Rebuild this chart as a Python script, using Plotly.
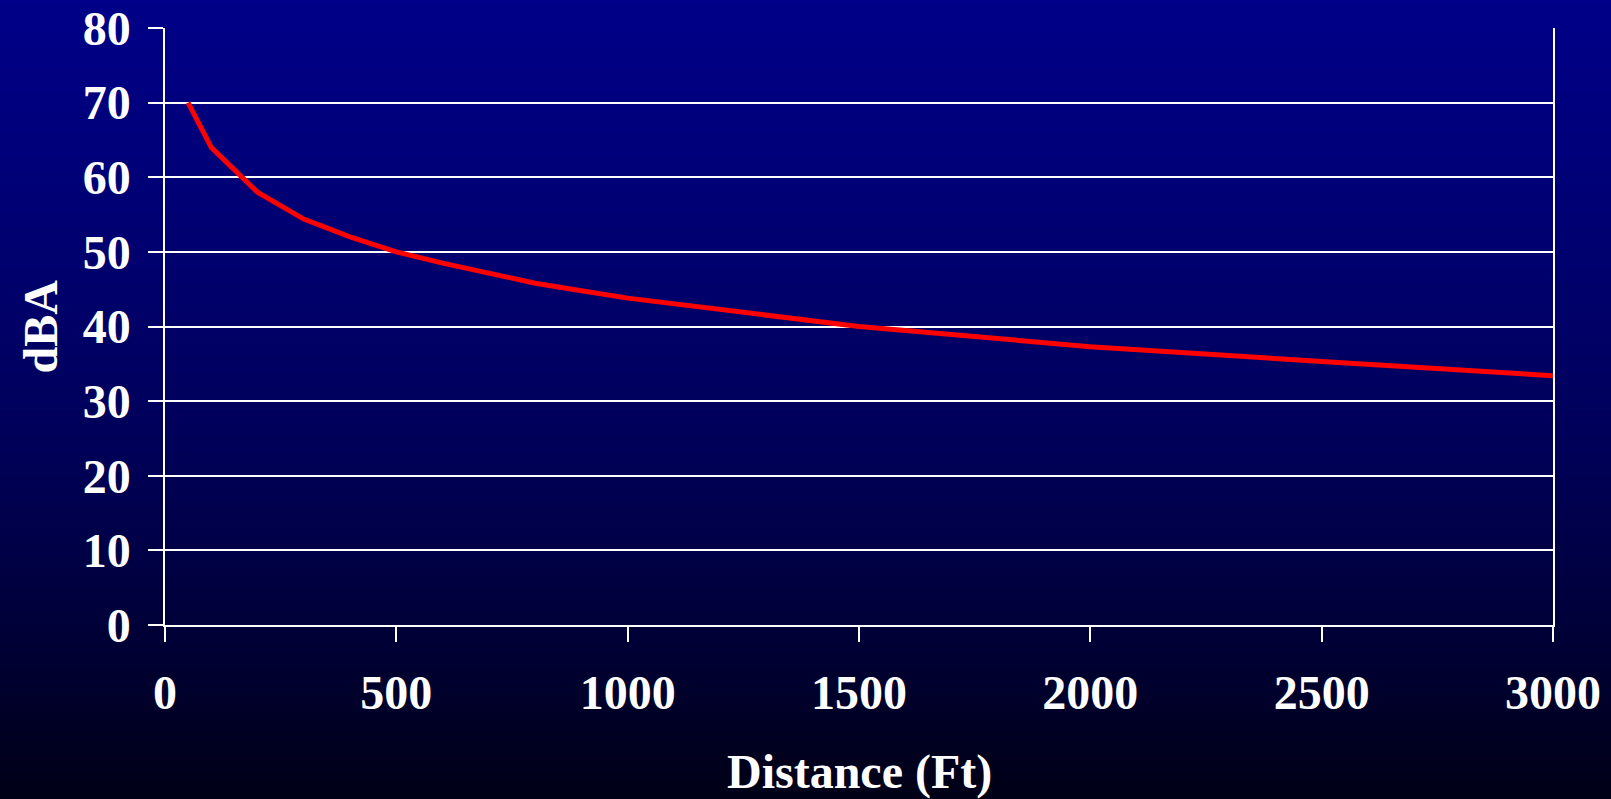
import plotly.graph_objects as go

# ---- data ----
distance_ft = [50, 100, 200, 300, 400, 500, 600, 700, 800, 900, 1000, 1500, 2000, 2500, 3000]
dba = [70.0, 64.0, 58.0, 54.4, 52.0, 50.0, 48.5, 47.2, 45.8, 44.8, 43.8, 40.0, 37.3, 35.3, 33.4]
x_ticks = [0, 500, 1000, 1500, 2000, 2500, 3000]
y_ticks = [0, 10, 20, 30, 40, 50, 60, 70, 80]
x_title = "Distance (Ft)"
y_title = "dBA"

W, H = 1611, 799
ML, MR, MT, MB = 165, 58, 28, 174
PW, PH = W - ML - MR, H - MT - MB

FONT = "Liberation Serif"

# background vertical gradient (style): pixel row -> blue channel
stops = [(0, 136), (150, 122), (300, 106), (450, 88), (620, 58), (799, 22)]


def blue_at(py):
    for (y0, b0), (y1, b1) in zip(stops[:-1], stops[1:]):
        if y0 <= py <= y1:
            t = (py - y0) / (y1 - y0)
            return b0 + t * (b1 - b0)
    return stops[-1][1]


shapes = []
step = 4
x0p = -ML / PW - 0.01
x1p = (W - ML) / PW + 0.01
for py in range(-8, H + step, step):
    b = int(round(blue_at(max(0, py + step / 2))))
    ytop = (H - MB - py) / PH
    ybot = (H - MB - (py + step + 1)) / PH
    shapes.append(dict(type="rect", xref="paper", yref="paper", x0=x0p, x1=x1p,
                       y0=ybot, y1=ytop, fillcolor=f"rgb(0,0,{b})",
                       line=dict(width=0), layer="below"))

fig = go.Figure()
fig.add_trace(go.Scatter(x=distance_ft, y=dba, mode="lines",
                         line=dict(color="#ff0000", width=5),
                         hoverinfo="x+y", showlegend=False))

tickfont = dict(family=FONT, size=48, color="white", weight="bold")

fig.update_layout(
    width=W, height=H,
    margin=dict(l=ML, r=MR, t=MT, b=MB, pad=0, autoexpand=False),
    paper_bgcolor="rgb(0,0,136)",
    plot_bgcolor="rgba(0,0,0,0)",
    shapes=shapes,
    showlegend=False,
    xaxis=dict(range=[0, 3000], tickvals=x_ticks, ticktext=[str(v) for v in x_ticks],
               ticks="outside", ticklen=15, tickwidth=1.5, tickcolor="white",
               showline=True, linecolor="white", linewidth=1.5,
               showgrid=False, zeroline=False, tickfont=tickfont,
               ticklabelstandoff=10, automargin=False),
    yaxis=dict(range=[0, 80], tickvals=y_ticks, ticktext=[str(v) for v in y_ticks],
               ticks="outside", ticklen=15, tickwidth=1.5, tickcolor="white",
               showline=True, mirror=True, linecolor="white", linewidth=1.5,
               showgrid=True, gridcolor="white", gridwidth=1.5,
               zeroline=False, tickfont=tickfont, ticklabelstandoff=8,
               automargin=False),
    annotations=[
        dict(text=x_title, xref="paper", yref="paper", x=0.5, y=0,
             xanchor="center", yanchor="middle", yshift=-147, showarrow=False,
             font=dict(family=FONT, size=48, color="white", weight="bold")),
        dict(text=y_title, xref="paper", yref="paper", x=0, y=0.5,
             xanchor="center", yanchor="middle", xshift=-125, textangle=-90,
             showarrow=False,
             font=dict(family=FONT, size=48, color="white", weight="bold")),
    ],
)

fig.write_html(
    "out.html",
    config={"displayModeBar": False},
    post_script="document.body.style.margin='0';document.body.style.overflow='hidden';",
)
